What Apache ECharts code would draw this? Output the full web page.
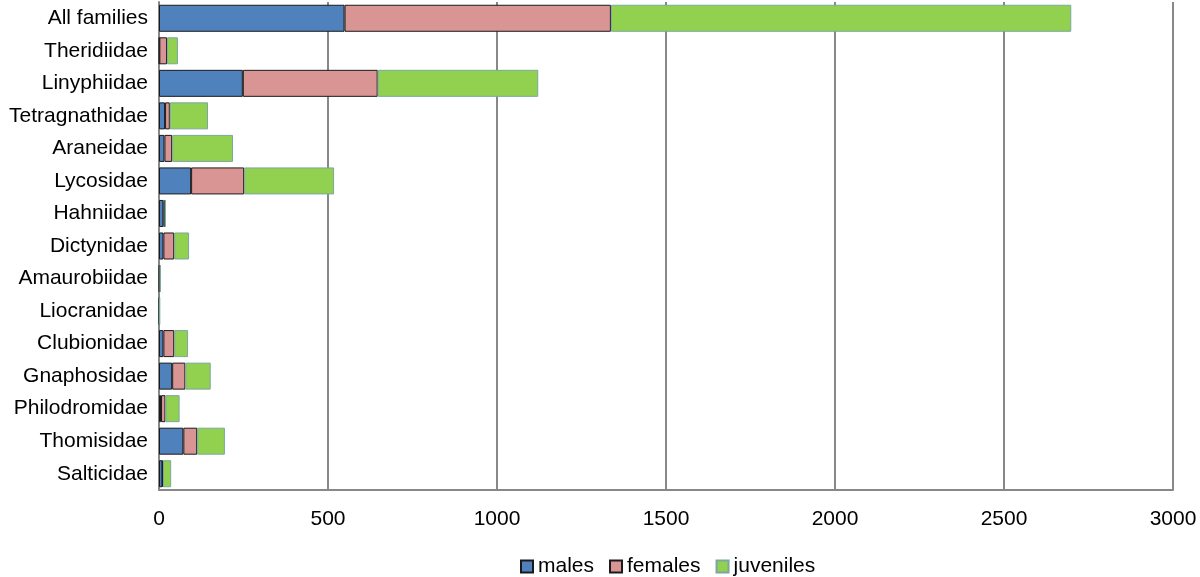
<!DOCTYPE html>
<html><head><meta charset="utf-8">
<script src="https://cdn.jsdelivr.net/npm/echarts@6/dist/echarts.min.js"></script>
<style>html,body{margin:0;padding:0;background:#fff}#c{width:1200px;height:577px}</style>
</head><body><div id="c"></div>
<script>
const categories = ["All families","Theridiidae","Linyphiidae","Tetragnathidae","Araneidae","Lycosidae","Hahniidae","Dictynidae","Amaurobiidae","Liocranidae","Clubionidae","Gnaphosidae","Philodromidae","Thomisidae","Salticidae"];
const males =     [549, 1, 248, 18, 16, 95, 13, 13, 1, 1, 13, 39, 6, 72, 10];
const females =   [788, 23, 399, 14, 23, 157, 5, 32, 2, 1, 32, 39, 13, 41, 2];
const juveniles = [1362, 32, 475, 113, 180, 266, 1, 44, 1, 0, 41, 75, 42, 82, 24];
const xTicks = [0, 500, 1000, 1500, 2000, 2500, 3000];

const font = "Liberation Sans, Arial, sans-serif";
const chart = echarts.init(document.getElementById('c'));
chart.setOption({
  animation: false,
  textStyle: {fontFamily: font},
  grid: {left: 159, right: 27, top: 2, bottom: 87, containLabel: false},
  legend: {
    top: 551, left: 515, itemWidth: 12, itemHeight: 12, itemGap: 15, icon: 'rect',
    textStyle: {fontSize: 21, color: '#000', fontFamily: font},
    data: ['males','females','juveniles']
  },
  xAxis: {
    type: 'value', min: xTicks[0], max: xTicks[xTicks.length-1], interval: 500,
    axisLine: {show: true, lineStyle: {color: '#888', width: 2}},
    axisTick: {show: false},
    axisLabel: {fontSize: 21, color: '#000', margin: 19, fontFamily: font,
      formatter: v => String(v)},
    splitLine: {show: true, lineStyle: {color: '#888', width: 2}}
  },
  yAxis: {
    type: 'category', data: categories, inverse: true,
    axisLine: {show: true, lineStyle: {color: '#888', width: 2}},
    axisTick: {show: false},
    axisLabel: {fontSize: 21, color: '#000', margin: 11, fontFamily: font}
  },
  series: [
    {name: 'males', type: 'bar', stack: 't', data: males, barCategoryGap: '17%',
     itemStyle: {color: '#4f81bd', borderColor: '#1a1a1a', borderWidth: 1}},
    {name: 'females', type: 'bar', stack: 't', data: females,
     itemStyle: {color: '#d99594', borderColor: '#1a1a1a', borderWidth: 1}},
    {name: 'juveniles', type: 'bar', stack: 't', data: juveniles,
     itemStyle: {color: '#92d050', borderColor: '#7aa8a0', borderWidth: 1}}
  ]
});
</script></body></html>
